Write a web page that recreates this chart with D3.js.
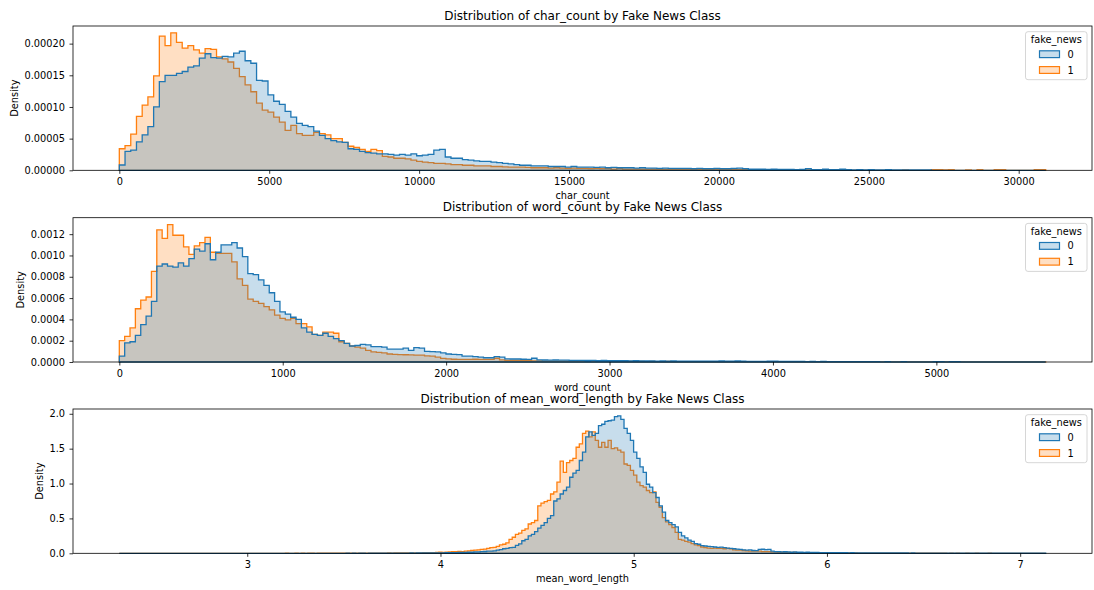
<!DOCTYPE html>
<html>
<head>
<meta charset="utf-8">
<script src="https://cdn.jsdelivr.net/npm/d3@7"></script>
<style>
  body { margin: 0; background: #ffffff; }
  svg { display: block; font-family: "DejaVu Sans", "Liberation Sans", sans-serif; }
</style>
</head>
<body>
<svg id="chart" width="1094" height="590"></svg>
<script>
// ---------------- DATA ----------------
const hueLevels = ["0", "1"];           // fake_news classes
const legendTitle = "fake_news";

// char_count: 162 equal-width bins over [0, 30900], density per bin
const charCountRange = [0, 30900];
const charCount0 = [
  [8.4e-6,3.0e-5,3.2e-5,4.5e-5,5.6e-5,6.9e-5,1.0e-4,1.4e-4,1.5e-4,1.5e-4],
  [1.53e-4,1.56e-4,1.63e-4,1.65e-4,1.77e-4,1.84e-4,1.78e-4,1.77e-4,1.8e-4,1.79e-4],
  [1.85e-4,1.88e-4,1.73e-4,1.69e-4,1.42e-4,1.41e-4,1.19e-4,1.09e-4,1.04e-4,9.3e-5],
  [8.4e-5,7.4e-5,7.1e-5,6.9e-5,6.2e-5,5.5e-5,5.0e-5,4.7e-5,4.5e-5,4.4e-5],
  [3.4e-5,3.3e-5,3.0e-5,2.8e-5,2.7e-5,2.6e-5,2.6e-5,2.5e-5,2.4e-5,2.5e-5],
  [2.4e-5,2.6e-5,2.3e-5,2.4e-5,2.5e-5,3.2e-5,3.3e-5,2.1e-5,1.9e-5,1.9e-5],
  [1.7e-5,1.6e-5,1.5e-5,1.4e-5,1.4e-5,1.3e-5,1.2e-5,1.1e-5,1.0e-5,9e-6],
  [8e-6,8e-6,7e-6,7e-6,7e-6,6e-6,6e-6,6e-6,5e-6,6e-6],
  [5e-6,5e-6,5e-6,4.5e-6,5e-6,4e-6,4.5e-6,4e-6,4e-6,4e-6],
  [3.5e-6,4e-6,3.5e-6,3.5e-6,3e-6,3.5e-6,3e-6,3e-6,3e-6,3e-6],
  [2.5e-6,3e-6,2.5e-6,2.5e-6,3e-6,2.5e-6,2.5e-6,3e-6,3.5e-6,2.5e-6],
  [2e-6,2e-6,2e-6,1.5e-6,2e-6,1.5e-6,1.5e-6,1.5e-6,1e-6,1.5e-6],
  [2.5e-6,1e-6,1e-6,2e-6,1e-6,1e-6,2e-6,1e-6,5e-7,1e-6],
  [5e-7,1e-6,5e-7,5e-7,1e-6,5e-7,5e-7,5e-7,5e-7,5e-7],
  [5e-7,5e-7,0,0,0,0,0,0,0,0],
  [0,0,0,0,0,0,0,0,0,0],
  [0,0]
].flat();
const charCount1 = [
  [3.4e-5,3.9e-5,5.7e-5,8.5e-5,1.03e-4,1.16e-4,1.49e-4,2.12e-4,1.97e-4,2.17e-4],
  [2.02e-4,1.93e-4,1.97e-4,1.90e-4,1.85e-4,1.92e-4,1.91e-4,1.79e-4,1.76e-4,1.71e-4],
  [1.61e-4,1.48e-4,1.35e-4,1.24e-4,1.06e-4,9.5e-5,9.2e-5,8.4e-5,7.6e-5,6.3e-5],
  [7.1e-5,5.8e-5,5.5e-5,5.5e-5,6.0e-5,5.8e-5,5.6e-5,5.0e-5,5.0e-5,4.4e-5],
  [3.8e-5,3.6e-5,3.3e-5,3.0e-5,3.3e-5,3.1e-5,2.2e-5,2.1e-5,1.9e-5,1.9e-5],
  [1.8e-5,1.6e-5,1.4e-5,1.3e-5,1.2e-5,1.1e-5,1.1e-5,1.0e-5,9e-6,9e-6],
  [8e-6,8e-6,7e-6,7e-6,7e-6,6e-6,6e-6,5.5e-6,5e-6,5e-6],
  [5e-6,4.5e-6,4e-6,4e-6,4e-6,3.5e-6,4e-6,3.5e-6,3e-6,3.5e-6],
  [3e-6,3e-6,2.5e-6,3e-6,2.5e-6,2.5e-6,2e-6,2.5e-6,2e-6,2e-6],
  [2e-6,2e-6,1.5e-6,2e-6,1.5e-6,1.5e-6,1.5e-6,1.5e-6,1e-6,1.5e-6],
  [1e-6,1e-6,1e-6,1e-6,1e-6,1e-6,1e-6,1e-6,1e-6,1e-6],
  [5e-7,1e-6,5e-7,5e-7,1e-6,5e-7,5e-7,5e-7,1e-6,5e-7],
  [5e-7,5e-7,5e-7,0,5e-7,5e-7,0,5e-7,0,5e-7],
  [0,5e-7,0,0,5e-7,0,0,5e-7,0,0],
  [0,0,1e-6,1e-6,5e-7,1e-6,0,0,5e-7,0],
  [1e-6,0,0,1e-6,1e-6,0,0,0,0,0],
  [1e-6,1e-6]
].flat();

// word_count: 173 equal-width bins over [0, 5669]
const wordCountRange = [0, 5669];
const wordCount0 = [
  [5.6e-5,1.8e-4,1.9e-4,2.5e-4,3.5e-4,4.3e-4,5.7e-4,9.0e-4,9.2e-4,9.0e-4],
  [8.9e-4,9.3e-4,9.0e-4,9.7e-4,1.06e-3,1.04e-3,1.11e-3,9.6e-4,1.03e-3,1.10e-3],
  [1.10e-3,1.12e-3,1.07e-3,9.9e-4,8.3e-4,8.2e-4,7.7e-4,7.2e-4,6.5e-4,5.7e-4],
  [4.7e-4,4.5e-4,4.2e-4,4.0e-4,3.2e-4,2.8e-4,2.6e-4,2.5e-4,2.7e-4,2.4e-4],
  [2.2e-4,2.0e-4,1.75e-4,1.5e-4,1.55e-4,1.66e-4,1.6e-4,1.45e-4,1.45e-4,1.4e-4],
  [1.2e-4,1.2e-4,1.2e-4,1.3e-4,1.1e-4,1.35e-4,1.3e-4,1.0e-4,9.7e-5,9.5e-5],
  [8.5e-5,7.5e-5,7.2e-5,7.0e-5,5.6e-5,5.5e-5,5.0e-5,4.5e-5,4.0e-5,4.0e-5],
  [5.0e-5,4.5e-5,3.0e-5,2.8e-5,2.8e-5,2.6e-5,2.5e-5,3.5e-5,2.0e-5,1.9e-5],
  [1.8e-5,1.9e-5,1.7e-5,1.8e-5,1.6e-5,1.5e-5,1.6e-5,1.4e-5,1.5e-5,1.3e-5],
  [1.4e-5,1.3e-5,1.2e-5,1.3e-5,1.2e-5,1.1e-5,1.2e-5,1.0e-5,1.1e-5,1.0e-5],
  [9e-6,1.0e-5,9e-6,1.0e-5,8e-6,9e-6,8e-6,9e-6,8e-6,7e-6],
  [8e-6,7e-6,1.0e-5,8e-6,7e-6,1.0e-5,9e-6,6e-6,6e-6,5e-6],
  [6e-6,8e-6,9e-6,6e-6,5e-6,5e-6,6e-6,5e-6,4e-6,5e-6],
  [4e-6,5e-6,4e-6,4e-6,3e-6,4e-6,3e-6,3e-6,4e-6,3e-6],
  [3e-6,3e-6,2e-6,3e-6,2e-6,2e-6,3e-6,2e-6,2e-6,2e-6],
  [2e-6,2e-6,4e-6,3e-6,2e-6,4e-6,3e-6,2e-6,1e-6,1e-6],
  [1e-6,1e-6,0,1e-6,0,0,1e-6,0,0,0],
  [0,0,0]
].flat();
const wordCount1 = [
  [2.0e-4,2.4e-4,3.2e-4,5.0e-4,5.8e-4,6.1e-4,8.5e-4,1.24e-3,1.16e-3,1.29e-3],
  [1.19e-3,1.19e-3,1.08e-3,1.01e-3,1.09e-3,1.12e-3,1.17e-3,1.03e-3,1.02e-3,1.02e-3],
  [1.02e-3,9.4e-4,7.8e-4,7.2e-4,5.9e-4,5.7e-4,5.5e-4,5.2e-4,4.9e-4,4.4e-4],
  [4.1e-4,3.95e-4,4.1e-4,3.6e-4,3.6e-4,3.3e-4,2.6e-4,2.5e-4,2.8e-4,2.8e-4],
  [2.7e-4,1.9e-4,1.75e-4,1.5e-4,1.4e-4,1.3e-4,1.1e-4,9.5e-5,9.0e-5,8.5e-5],
  [7.5e-5,7.2e-5,7.0e-5,6.8e-5,6.6e-5,6.5e-5,6.5e-5,5.8e-5,5.5e-5,4.5e-5],
  [3.4e-5,3.0e-5,2.6e-5,2.5e-5,2.5e-5,2.4e-5,2.6e-5,2.5e-5,2.4e-5,2.5e-5],
  [3.5e-5,2.0e-5,1.6e-5,1.5e-5,1.5e-5,1.4e-5,1.2e-5,1.1e-5,1.0e-5,9e-6],
  [9e-6,8e-6,9e-6,8e-6,7e-6,8e-6,7e-6,7e-6,6e-6,7e-6],
  [6e-6,6e-6,5e-6,6e-6,5e-6,5e-6,6e-6,5e-6,4e-6,5e-6],
  [4e-6,4e-6,5e-6,4e-6,3e-6,4e-6,3e-6,3e-6,4e-6,3e-6],
  [3e-6,3e-6,2e-6,3e-6,2e-6,2e-6,3e-6,2e-6,2e-6,2e-6],
  [2e-6,1e-6,2e-6,1e-6,2e-6,1e-6,1e-6,1e-6,1e-6,1e-6],
  [1e-6,1e-6,1e-6,2e-6,3e-6,2e-6,1e-6,1e-6,1e-6,0],
  [1e-6,0,0,1e-6,0,0,0,0,1e-6,0],
  [1e-6,2e-6,1e-6,0,1e-6,0,0,1e-6,0,0],
  [1e-6,1e-6,0,0,0,0,0,0,0,0],
  [0,1e-6,1e-6]
].flat();

// mean_word_length: 290 equal-width bins over [2.338, 7.132]
const meanWordLengthRange = [2.338, 7.132];
const meanWordLength0 = [
  [0,0,0,0,0,0,0,0,0,0],[0,0,0,0,0,0,0,0,0,0],[0,0,0,0,0,0,0,0,0,0],
  [0,0,0,0,0,0,0,0,0,0],[0,0,0,0,0,0,0,0,0,0],[0,0,0,0,0,0,0,0,0,0],
  [0,0,0,0,0,0,0,0,0,0],
  [0,0.001,0,0.001,0,0.001,0.001,0,0.001,0.001],
  [0.001,0.001,0.002,0.001,0.002,0.002,0.002,0.003,0.002,0.003],
  [0.003,0.004,0.003,0.004,0.004,0.005,0.004,0.006,0.005,0.006],
  [0.007,0.006,0.008,0.009,0.010,0.011,0.012,0.012,0.014,0.016],
  [0.018,0.020,0.021,0.024,0.026,0.030,0.032,0.036,0.045,0.052],
  [0.065,0.072,0.080,0.085,0.115,0.135,0.18,0.20,0.25,0.27],
  [0.31,0.36,0.40,0.44,0.50,0.54,0.75,0.78,0.85,0.90],
  [0.95,1.09,1.15,1.19,1.33,1.45,1.67,1.74,1.69,1.72],
  [1.83,1.85,1.89,1.90,1.91,1.96,1.97,1.92,1.79,1.72],
  [1.62,1.45,1.36,1.24,1.16,0.99,0.95,0.87,0.80,0.68],
  [0.59,0.47,0.44,0.41,0.38,0.30,0.25,0.22,0.19,0.17],
  [0.14,0.13,0.11,0.105,0.10,0.095,0.09,0.085,0.088,0.08],
  [0.075,0.07,0.065,0.06,0.055,0.05,0.045,0.048,0.04,0.038],
  [0.055,0.058,0.052,0.056,0.03,0.025,0.025,0.02,0.022,0.02],
  [0.018,0.02,0.015,0.015,0.014,0.015,0.012,0.013,0.012,0.011],
  [0.01,0.011,0.009,0.01,0.009,0.008,0.009,0.008,0.007,0.008],
  [0.007,0.007,0.006,0.007,0.006,0.006,0.005,0.006,0.005,0.005],
  [0.005,0.004,0.005,0.004,0.004,0.004,0.004,0.003,0.004,0.003],
  [0.003,0.003,0.003,0.003,0.003,0.002,0.003,0.002,0.002,0.003],
  [0.002,0.002,0.002,0.002,0.002,0.002,0.001,0.002,0.001,0.002],
  [0.001,0.001,0.001,0.001,0.001,0.001,0.001,0.001,0.001,0.001],
  [0.001,0.001,0.001,0.001,0.001,0.001,0.001,0.001,0.001,0.001]
].flat();
const meanWordLength1 = [
  [0,0,0,0,0,0,0,0,0,0],[0,0,0,0,0,0,0,0,0,0],[0,0,0,0,0,0,0,0,0,0],
  [0,0,0,0,0,0,0,0,0,0],[0,0,0,0,0,0,0,0,0,0],
  [0,0,0.001,0,0,0.001,0,0.001,0,0.001],
  [0.001,0,0.001,0.001,0.001,0.001,0.002,0.001,0.001,0.002],
  [0.001,0.002,0.002,0.001,0.002,0.002,0.003,0.002,0.002,0.003],
  [0.002,0.003,0.002,0.003,0.004,0.003,0.004,0.005,0.004,0.005],
  [0.006,0.005,0.006,0.007,0.006,0.008,0.009,0.010,0.011,0.013],
  [0.015,0.014,0.017,0.019,0.022,0.024,0.026,0.025,0.030,0.034],
  [0.040,0.045,0.050,0.055,0.060,0.070,0.080,0.085,0.10,0.12],
  [0.13,0.15,0.20,0.23,0.27,0.29,0.33,0.35,0.42,0.44],
  [0.47,0.68,0.72,0.74,0.76,0.85,0.88,1.02,1.32,1.16],
  [1.30,1.33,1.36,1.52,1.57,1.72,1.75,1.67,1.74,1.62],
  [1.52,1.59,1.52,1.62,1.50,1.51,1.48,1.45,1.28,1.26],
  [1.19,1.12,1.02,0.97,0.95,0.90,0.87,0.88,0.73,0.66],
  [0.51,0.45,0.41,0.37,0.30,0.20,0.19,0.17,0.16,0.14],
  [0.12,0.11,0.09,0.08,0.075,0.07,0.075,0.07,0.07,0.065],
  [0.07,0.065,0.05,0.045,0.045,0.04,0.035,0.03,0.03,0.03],
  [0.03,0.025,0.025,0.025,0.02,0.02,0.018,0.016,0.015,0.014],
  [0.013,0.012,0.011,0.01,0.01,0.009,0.009,0.008,0.008,0.007],
  [0.007,0.006,0.006,0.006,0.005,0.005,0.005,0.004,0.004,0.004],
  [0.004,0.003,0.003,0.003,0.003,0.003,0.002,0.003,0.002,0.002],
  [0.002,0.002,0.002,0.002,0.002,0.001,0.002,0.001,0.001,0.001],
  [0.001,0.001,0.001,0.001,0.001,0.001,0.001,0.001,0.001,0],
  [0.001,0,0.001,0,0,0.001,0,0,0.001,0],
  [0,0,0.001,0,0,0,0,0,0,0],
  [0,0,0,0,0,0,0,0,0,0]
].flat();

// tick values and labels
const charXTicks = [0, 5000, 10000, 15000, 20000, 25000, 30000];
const charYTicks = [0, 0.00005, 0.00010, 0.00015, 0.00020];
const wordXTicks = [0, 1000, 2000, 3000, 4000, 5000];
const wordYTicks = [0, 0.0002, 0.0004, 0.0006, 0.0008, 0.0010, 0.0012];
const mwlXTicks = [3, 4, 5, 6, 7];
const mwlYTicks = [0, 0.5, 1.0, 1.5, 2.0];

const panelTitles = [
  "Distribution of char_count by Fake News Class",
  "Distribution of word_count by Fake News Class",
  "Distribution of mean_word_length by Fake News Class"
];
const xLabels = ["char_count", "word_count", "mean_word_length"];
const yLabel = "Density";

// ---------------- DRAWING ----------------
const panels = [
  { title: panelTitles[0], xlabel: xLabels[0], range: charCountRange, s0: charCount0, s1: charCount1, xTicks: charXTicks, yTicks: charYTicks, yFmt: d3.format(".5f"), xFmt: d3.format("d") },
  { title: panelTitles[1], xlabel: xLabels[1], range: wordCountRange, s0: wordCount0, s1: wordCount1, xTicks: wordXTicks, yTicks: wordYTicks, yFmt: d3.format(".4f"), xFmt: d3.format("d") },
  { title: panelTitles[2], xlabel: xLabels[2], range: meanWordLengthRange, s0: meanWordLength0, s1: meanWordLength1, xTicks: mwlXTicks, yTicks: mwlYTicks, yFmt: d3.format(".1f"), xFmt: d3.format("d") }
];

const svg = d3.select("#chart");
const L = 73, R = 1092, PH = 144.3;
const tops = [26, 217.7, 409];
const colors = { "0": "#1f77b4", "1": "#ff7f0e" };
const TXT = "#000000";
const tickFont = 9.8;

panels.forEach((p, i) => {
  const top = tops[i], bottom = top + PH;
  const [lo, hi] = p.range;
  const span = hi - lo;
  const x = d3.scaleLinear().domain([lo - 0.05 * span, hi + 0.05 * span]).range([L, R]);
  const ymax = d3.max(p.s0.concat(p.s1)) * 1.05;
  const y = d3.scaleLinear().domain([0, ymax]).range([bottom, top]);
  const g = svg.append("g");

  // histograms: class "1" drawn first, class "0" on top (seaborn layer order)
  const line = d3.line().x(d => x(d[0])).y(d => y(d[1]));
  [["1", p.s1], ["0", p.s0]].forEach(([lvl, vals]) => {
    const w = span / vals.length;
    const pts = [[lo, 0]];
    vals.forEach((v, k) => { pts.push([lo + k * w, v]); pts.push([lo + (k + 1) * w, v]); });
    pts.push([hi, 0]);
    g.append("path")
      .attr("d", line(pts) + "Z")
      .attr("fill", colors[lvl]).attr("fill-opacity", 0.25)
      .attr("stroke", colors[lvl]).attr("stroke-width", 1.3)
      .attr("stroke-linejoin", "miter");
  });

  // x axis
  const xa = g.append("g").attr("transform", `translate(0,${bottom})`)
    .call(d3.axisBottom(x).tickValues(p.xTicks).tickFormat(p.xFmt).tickSize(3.5).tickPadding(4.5));
  // y axis
  const ya = g.append("g").attr("transform", `translate(${L},0)`)
    .call(d3.axisLeft(y).tickValues(p.yTicks).tickFormat(p.yFmt).tickSize(3.5).tickPadding(4.5));
  [xa, ya].forEach(a => {
    a.attr("font-family", null).attr("font-size", null);
    a.select(".domain").remove();
    a.selectAll(".tick line").attr("stroke", TXT).attr("stroke-width", 0.8);
    a.selectAll(".tick text").attr("fill", TXT).style("font-size", tickFont + "px")
      .style("font-family", '"DejaVu Sans", sans-serif');
  });

  // spines
  g.append("rect").attr("x", L).attr("y", top).attr("width", R - L).attr("height", PH)
    .attr("fill", "none").attr("stroke", TXT).attr("stroke-width", 0.8);

  // title
  g.append("text").attr("x", (L + R) / 2).attr("y", top - 6.5)
    .attr("text-anchor", "middle").attr("fill", TXT).style("font-size", "12px").text(p.title);

  // x label
  g.append("text").attr("x", (L + R) / 2).attr("y", bottom + 28.5)
    .attr("text-anchor", "middle").attr("fill", TXT).style("font-size", tickFont + "px").text(p.xlabel);

  // y label, placed left of the tick labels
  let minX = Infinity;
  ya.selectAll(".tick text").each(function () { const b = this.getBBox(); const ctm = this.getCTM(); minX = Math.min(minX, b.x + ctm.e); });
  const ylx = minX - 4;
  g.append("text").attr("transform", `translate(${ylx - 2.3},${(top + bottom) / 2}) rotate(-90)`)
    .attr("text-anchor", "middle").attr("fill", TXT).style("font-size", tickFont + "px").text(yLabel);

  // legend
  const bx = 1025.5, by = top + 5.7, bw = 61.5, bh = 48;
  const lg = g.append("g");
  lg.append("rect").attr("x", bx).attr("y", by).attr("width", bw).attr("height", bh).attr("rx", 2.5)
    .attr("fill", "#ffffff").attr("fill-opacity", 0.8).attr("stroke", "#cccccc").attr("stroke-width", 0.8);
  lg.append("text").attr("x", bx + bw / 2).attr("y", top + 17).attr("text-anchor", "middle")
    .attr("fill", TXT).style("font-size", tickFont + "px").text(legendTitle);
  hueLevels.forEach((lvl, j) => {
    const cy = top + 28.2 + j * 15.8;
    lg.append("rect").attr("x", 1039.5).attr("y", cy - 3.4).attr("width", 20).attr("height", 6.8)
      .attr("fill", colors[lvl]).attr("fill-opacity", 0.25).attr("stroke", colors[lvl]).attr("stroke-width", 1.2);
    lg.append("text").attr("x", 1067.5).attr("y", cy + 3.5).attr("fill", TXT)
      .style("font-size", tickFont + "px").text(lvl);
  });
});
</script>
</body>
</html>
